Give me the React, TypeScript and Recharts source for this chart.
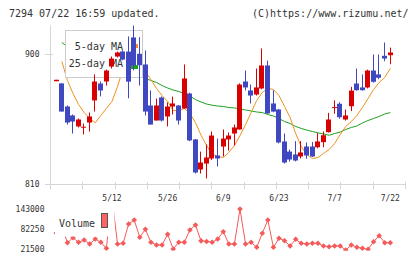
import React from "react";
import { ComposedChart, LineChart, Bar, Line, XAxis, YAxis } from "recharts";

// 2015/4/22 - 7/22 trading days
const dates = [
  "4/22", "4/23", "4/24", "4/27", "4/28", "4/30", "5/1", "5/7", "5/8", "5/11",
  "5/12", "5/13", "5/14", "5/15", "5/18", "5/19", "5/20", "5/21", "5/22", "5/25",
  "5/26", "5/27", "5/28", "5/29", "6/1", "6/2", "6/3", "6/4", "6/5", "6/8",
  "6/9", "6/10", "6/11", "6/12", "6/15", "6/16", "6/17", "6/18", "6/19", "6/22",
  "6/23", "6/24", "6/25", "6/26", "6/29", "6/30", "7/1", "7/2", "7/3", "7/6",
  "7/7", "7/8", "7/9", "7/10", "7/13", "7/14", "7/15", "7/16", "7/17", "7/21",
  "7/22",
];
const labelDays = ["5/12", "5/26", "6/9", "6/23", "7/7", "7/22"];

const opens = [
  881.5, 880, 864, 857.8, 850.2, 849.5, 852.9, 868.2, 879.9, 881.3,
  891.7, 898.6, 902.1, 902, 911.8, 900.5, 893.1, 864.7, 854.3, 870.2,
  857.1, 864, 864.7, 862.6, 873, 841.2, 820.4, 824.5, 828, 830.1,
  836.3, 841.2, 845.3, 848.1, 881.3, 875.1, 872.3, 876.5, 892.4, 866.1,
  861.9, 839.8, 832.8, 830.8, 829.4, 836.3, 836.3, 835.8, 839.3, 846.2,
  863.3, 865.9, 855, 864.2, 879.9, 877.2, 877.2, 888.9, 886.2, 899.1,
  899.5,
];
const highs = [
  882.5, 880, 864.7, 858.5, 855.7, 852.2, 859.8, 886.2, 881.3, 889.5,
  898.6, 902, 903, 912.5, 921, 912, 902.8, 875.1, 869.5, 870.9,
  866.8, 870.9, 865, 893.1, 873.5, 841.5, 832.8, 837.7, 846.7, 841.8,
  848.1, 846, 851.5, 880, 888.9, 879.2, 890.3, 904.2, 895.8, 875.1,
  862.3, 845.3, 834.2, 840, 840, 839.1, 839.4, 845.5, 846.7, 859.6,
  868.2, 867, 861.9, 877.6, 890.3, 886.2, 889.5, 900, 900, 908.3,
  904.8,
];
const lows = [
  881.5, 860.5, 851.5, 845.3, 849.5, 844.6, 846.7, 860.5, 871, 878.5,
  890.3, 898, 896, 869.7, 889, 878.5, 857.8, 851.5, 854.3, 853.6,
  850.2, 858.5, 851.5, 862.6, 840, 817.6, 817.6, 814.2, 827, 822.5,
  829.4, 833.5, 837, 848, 875.1, 866.1, 871.6, 876, 859, 860,
  838.5, 824.5, 825.9, 826, 828, 827.8, 829, 835, 835.8, 846,
  859, 855.5, 854.3, 860.8, 875, 875, 876.5, 880.5, 882.9, 895.4,
  893.3,
];
const closes = [
  882.5, 860.5, 852.9, 853.6, 855, 850, 857.1, 881.3, 875.1, 888.9,
  897.2, 901.4, 896.5, 881.2, 892.4, 892.6, 860.5, 851.5, 864.7, 854.3,
  864, 866.1, 854.3, 883.4, 840.5, 818.3, 825.2, 828.7, 843.9, 828,
  841.8, 843.9, 849.5, 879.2, 877.2, 871.6, 877.2, 892.4, 859.2, 860.5,
  839.1, 825.2, 827.3, 826.6, 832.2, 830.1, 829.4, 839.8, 844.1, 855,
  863.6, 856.6, 857.8, 875, 875.3, 875.3, 888.9, 881.1, 883.9, 897.2,
  901.4,
];
const ma5 = [
  null, 895.2, 882, 873, 865.4, 859.8, 855.7, 852.7, 857.8, 862.6,
  867.5, 877.8, 890.3, 893, 893.5, 892.5, 888, 882.7, 876.5, 871.6,
  867.5, 861.2, 861.2, 862.6, 859.2, 852.9, 844.1, 837, 830.8, 829.4,
  828.7, 832.2, 837, 843.9, 851.5, 859.8, 868.2, 873.7, 876.5, 875.8,
  871.6, 864, 856.4, 845.3, 836.3, 830.8, 828, 828.7, 831.5, 834.2,
  838.4, 844.6, 850.2, 853.6, 857.8, 863.3, 869.5, 875.8, 880.6, 884.1,
  890.3,
];
const ma25 = [
  null, 908.3, 905.5, 903.5, 901.4, 899.3, 897.9, 895.8, 894.5, 893.1,
  891.7, 890.3, 888.9, 887.5, 886.2, 884.8, 883.4, 882, 880.6, 878.5,
  876.8, 875.4, 874.4, 873, 871.3, 868.8, 867.1, 865.7, 864.9, 864.3,
  864, 863.3, 863, 862.3, 861.6, 860.9, 860.2, 859.8, 858.5, 857.4,
  855.7, 853.6, 852.2, 850.2, 848.8, 847.7, 846.7, 845.8, 845, 844.1,
  845.3, 846.3, 848.1, 849.5, 850.5, 852.6, 854.3, 855.7, 857.1, 858.8,
  859.8,
];
const volumes = [
  70000, 88000, 41100, 55900, 42200, 49100, 37200, 52000, 42200, 24500,
  175000, 37200, 39300, 96500, 108300, 57100, 80800, 42200, 34200, 34200,
  66000, 22400, 42200, 42200, 78700, 93500, 46500, 44600, 42200, 52000,
  73700, 37200, 37200, 140900, 37200, 42200, 27400, 68900, 108300, 27400,
  54100, 47000, 31300, 51100, 39300, 37200, 39300, 39300, 31300, 29200,
  31300, 31300, 19400, 34200, 27400, 24500, 21500, 44000, 61800, 41100,
  41100,
];
const priceTicks = [810, 900];
const volumeTicks = [21500, 82250, 143000];

const RED = "#d80000";
const BLUE = "#3f48c0";
const ORANGE = "#f0921e";
const GREEN = "#1ea01e";
const VOL = "#f55a5a";
const GRID = "#d6d6d6";
const FONT = "DejaVu Sans Mono";

const X_MIN = -1.042;
const X_MAX = 62.731;
const gridTicks = Array.from({ length: 12 }, (_, k) => (k === 11 ? X_MAX : X_MIN + (k * (X_MAX - X_MIN)) / 11));
const labelTicks = labelDays.map((d) => dates.indexOf(d));

const rows = dates.map((date, i) => ({
  i,
  date,
  open: opens[i],
  high: highs[i],
  low: lows[i],
  close: closes[i],
  range: [lows[i], highs[i]],
  ma5: ma5[i],
  ma25: ma25[i],
  volume: volumes[i],
}));

function Candle(props: any) {
  const { x, y, width, height, payload } = props;
  if (x == null || !payload) return null;
  const top = Math.min(y, y + height);
  const h = Math.abs(height);
  const k = payload.high === payload.low ? 0 : h / (payload.high - payload.low);
  const left = Math.round(x + width / 2 - 2.5);
  const wx = left + 2.5;
  const bTop = top + (payload.high - Math.max(payload.open, payload.close)) * k;
  const bBot = top + (payload.high - Math.min(payload.open, payload.close)) * k;
  const color = payload.close >= payload.open ? RED : BLUE;
  return (
    <g>
      <line x1={wx} x2={wx} y1={top} y2={top + h} stroke={color} strokeWidth={1} />
      <rect x={left} y={bTop} width={5} height={Math.max(1, bBot - bTop)} fill={color} />
    </g>
  );
}

function XTick(props: any) {
  const { x, payload } = props;
  const v = payload.value;
  if (Number.isInteger(v)) {
    return (
      <text x={x} y={200.5} textAnchor="middle" fontFamily={FONT} fontSize={8} fill="#333">
        {dates[v]}
      </text>
    );
  }
  const lx = Math.round(x - 0.5) + 0.5;
  return <line x1={lx} x2={lx} y1={182} y2={189} stroke={GRID} />;
}

function YTick(props: any) {
  const { y, payload } = props;
  const ly = Math.round(y - 0.5) + 0.5;
  return (
    <g>
      <line x1={45} x2={53} y1={ly} y2={ly} stroke={GRID} />
      <text x={39.5} y={y} dy="0.34em" textAnchor="end" fontFamily={FONT} fontSize={8} fill="#333">
        {payload.value}
      </text>
    </g>
  );
}

function Diamond(props: any) {
  const { cx, cy } = props;
  if (cx == null || cy == null) return null;
  const r = 2.8;
  return <polygon points={`${cx},${cy - r} ${cx + r},${cy} ${cx},${cy + r} ${cx - r},${cy}`} fill={VOL} />;
}

function MaLegend() {
  return (
    <g>
      <rect x={65.5} y={30.5} width={77} height={47} fill="#fff" stroke="#ccc" />
      <rect x={131} y={44} width={7} height={4} fill={ORANGE} />
      <rect x={131} y={65} width={7} height={4} fill={GREEN} />
      <text x={123} y={50} textAnchor="end" fontFamily={FONT} fontSize={10} fill="#333">5-day MA</text>
      <text x={123} y={67} textAnchor="end" fontFamily={FONT} fontSize={10} fill="#333">25-day MA</text>
    </g>
  );
}

export default function App() {
  return (
    <div style={{ position: "absolute", left: 0, top: 0, width: 420, height: 259, background: "#fff", overflow: "hidden" }}>
      <div style={{ position: "absolute", left: 0, top: 0 }}>
        <ComposedChart width={420} height={205} data={rows} margin={{ top: 25.61, right: 14.5, bottom: 0, left: 0 }}>
          <XAxis
            dataKey="i"
            type="number"
            domain={[X_MIN, X_MAX]}
            allowDataOverflow
            ticks={[...gridTicks, ...labelTicks]}
            interval={0}
            tick={<XTick />}
            tickLine={false}
            axisLine={{ stroke: GRID }}
            height={20.5}
          />
          <YAxis
            type="number"
            domain={[810, 920]}
            allowDataOverflow
            ticks={priceTicks}
            tick={<YTick />}
            tickLine={false}
            axisLine={{ stroke: GRID }}
            width={50.5}
          />
          <Line dataKey="ma25" stroke={GREEN} strokeWidth={1} dot={false} isAnimationActive={false} zIndex={-10} />
          <Line dataKey="ma5" stroke={ORANGE} strokeWidth={1} dot={false} isAnimationActive={false} zIndex={-10} />
          <MaLegend />
          <Bar dataKey="range" barSize={5} shape={<Candle />} isAnimationActive={false} />
        </ComposedChart>
      </div>
      <div style={{ position: "absolute", left: 0, top: 205 }}>
        <LineChart width={420} height={54} data={rows} margin={{ top: 0.94, right: 14.5, bottom: 8.18, left: 0 }}>
          <XAxis dataKey="i" type="number" domain={[X_MIN, X_MAX]} allowDataOverflow hide />
          <YAxis
            type="number"
            domain={[17000, 150000]}
            allowDataOverflow
            ticks={volumeTicks}
            tickLine={false}
            axisLine={false}
            tickSize={0}
            tickMargin={6}
            width={50.5}
            tick={{ fontFamily: FONT, fontSize: 8, fill: "#333" }}
          />
          <Line dataKey="volume" stroke={VOL} strokeWidth={1} dot={<Diamond />} isAnimationActive={false} />
        </LineChart>
      </div>
      <svg width={420} height={259} style={{ position: "absolute", left: 0, top: 0, pointerEvents: "none" }}>
        <text x={9} y={16.5} fontFamily={FONT} fontSize={10} fill="#333">7294 07/22 16:59 updated.</text>
        <text x={408.5} y={16.5} textAnchor="end" fontFamily={FONT} fontSize={10} fill="#333">(C)https://www.rizumu.net/</text>
        <rect x={55} y={205} width={59.5} height={31.5} fill="#fff" />
        <text x={59} y={227} fontFamily={FONT} fontSize={10} fill="#333">Volume</text>
        <rect x={101.5} y={213.5} width={6} height={14} fill="#ff6464" stroke="#555" />
      </svg>
    </div>
  );
}
